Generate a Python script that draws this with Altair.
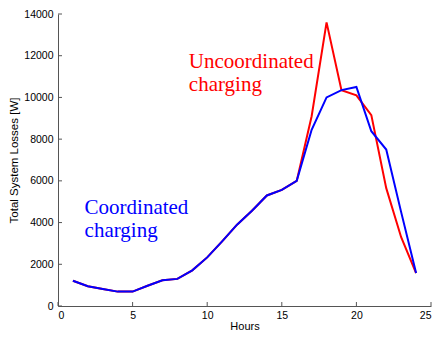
import altair as alt
import pandas as pd

hours = list(range(1, 25))
coordinated = [1210, 950, 820, 690, 690, 970, 1230, 1300, 1710, 2330, 3100, 3900,
               4570, 5300, 5570, 6000, 8450, 10000, 10350, 10500, 8380, 7500, 4500, 1580]
uncoordinated = [1210, 950, 820, 690, 690, 970, 1230, 1300, 1710, 2330, 3100, 3900,
                 4570, 5300, 5570, 6000, 9100, 13600, 10350, 10100, 9150, 5650, 3300, 1580]

x_ticks = [0, 5, 10, 15, 20, 25]
y_ticks = [0, 2000, 4000, 6000, 8000, 10000, 12000, 14000]

ann_text = ["Uncoordinated", "charging", "Coordinated", "charging"]
ann_x = [8.77, 8.77, 1.78, 1.78]
ann_y = [11420, 10300, 4420, 3300]
ann_series = ["Uncoordinated", "Uncoordinated", "Coordinated", "Coordinated"]

df_c = pd.DataFrame({"Hours": hours, "Losses": coordinated})
df_u = pd.DataFrame({"Hours": hours, "Losses": uncoordinated})
df_ann = pd.DataFrame({"text": ann_text, "x": ann_x, "y": ann_y, "series": ann_series})
df_xt = pd.DataFrame({"t": x_ticks})
df_yt = pd.DataFrame({"t": y_ticks})

W, H = 373, 292

xscale = alt.Scale(domain=[0, 25], nice=False, zero=False, padding=0)
yscale = alt.Scale(domain=[0, 14000], nice=False, padding=0)

axis_common = dict(grid=False, tickSize=0, domainColor="#555555", domainWidth=1,
                   labelFont="Liberation Sans", labelFontSize=10.5, labelColor="#000000",
                   labelOverlap=False,
                   titleFont="Liberation Sans", titleFontWeight="normal",
                   titleColor="#000000", format="d")

xenc = alt.X("Hours:Q", scale=xscale,
             axis=alt.Axis(values=x_ticks, title="Hours", labelPadding=4, titlePadding=0,
                           titleFontSize=11, **axis_common))
yenc = alt.Y("Losses:Q", scale=yscale,
             axis=alt.Axis(values=y_ticks, title="Total System Losses [W]", labelPadding=5,
                           titlePadding=4, titleFontSize=11.5, **axis_common))

red_line = alt.Chart(df_u).mark_line(color="#ff0000", strokeWidth=2).encode(x=xenc, y=yenc)
blue_line = alt.Chart(df_c).mark_line(color="#0000ff", strokeWidth=2).encode(x=xenc, y=yenc)

text = alt.Chart(df_ann).mark_text(align="left", baseline="alphabetic",
                                   font="Liberation Serif", fontSize=21).encode(
    x=alt.X("x:Q", scale=xscale),
    y=alt.Y("y:Q", scale=yscale),
    text="text:N",
    color=alt.Color("series:N",
                    scale=alt.Scale(domain=["Uncoordinated", "Coordinated"],
                                    range=["#ff0000", "#0000ff"]),
                    legend=None),
)

yt = alt.Chart(df_yt).mark_rule(color="#555555", strokeWidth=1).encode(
    y=alt.Y("t:Q", scale=yscale), x=alt.value(0), x2=alt.value(4))
xt = alt.Chart(df_xt).mark_rule(color="#555555", strokeWidth=1).encode(
    x=alt.X("t:Q", scale=xscale), y=alt.value(H - 4), y2=alt.value(H))

chart = alt.layer(red_line, blue_line, text, yt, xt).properties(
    width=W, height=H,
    padding={"left": 50, "top": 6, "right": 6, "bottom": 28},
    autosize=alt.AutoSizeParams(type="none"),
).configure_view(stroke=None)

chart.save("out.html", embed_options={"renderer": "svg", "actions": False})
